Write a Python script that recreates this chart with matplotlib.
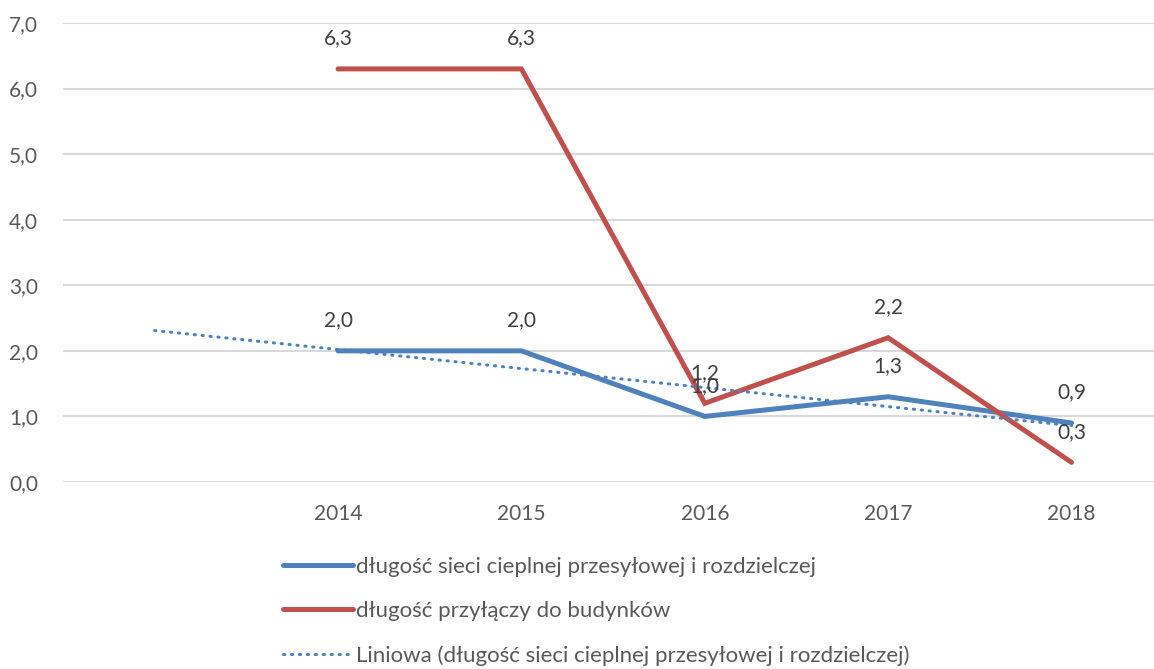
import matplotlib.pyplot as plt
import numpy as np

plt.rcParams['font.family'] = ['Lato', 'DejaVu Sans']

# first slot is an empty category, so the trend line has room to the left
years = ['', '2014', '2015', '2016', '2017', '2018']
siec = [2.0, 2.0, 1.0, 1.3, 0.9]          # 2014-2018
przylacza = [6.3, 6.3, 1.2, 2.2, 0.3]     # 2014-2018
y_ticks = [0, 1, 2, 3, 4, 5, 6, 7]

label_siec = 'długość sieci cieplnej przesyłowej i rozdzielczej'
label_przyl = 'długość przyłączy do budynków'
label_trend = 'Liniowa (długość sieci cieplnej przesyłowej i rozdzielczej)'

blue = '#4F81BD'
red = '#C0504D'
txt = '#595959'

fig = plt.figure(figsize=(11.54, 6.69), dpi=100)
ax = fig.add_axes([63 / 1154, 1 - 482 / 669, 1 - 63 / 1154, (482 - 23) / 669])

x = np.arange(1, len(years))
l1, = ax.plot(x, siec, color=blue, lw=3.6, solid_capstyle='round', solid_joinstyle='miter')
l2, = ax.plot(x, przylacza, color=red, lw=3.6, solid_capstyle='round', solid_joinstyle='miter')

# linear trend over the whole category range
k, b = np.polyfit(x, siec, 1)
xt = np.array([0, len(years) - 1])
l3, = ax.plot(xt, k * xt + b, color=blue, lw=2.2, linestyle=(0, (0.4, 2.2)),
              dash_capstyle='round')

for xi, v in zip(x, siec):
    ax.annotate(f'{v:.1f}'.replace('.', ','), (xi, v), xytext=(0, 22),
                textcoords='offset points', ha='center', va='center',
                fontsize=15, color='#404040')
for xi, v in zip(x, przylacza):
    ax.annotate(f'{v:.1f}'.replace('.', ','), (xi, v), xytext=(0, 22),
                textcoords='offset points', ha='center', va='center',
                fontsize=15, color='#404040')

ax.set_xlim(-0.5, 5.45)
ax.set_ylim(0, 7)
ax.set_xticks(range(len(years)))
ax.set_xticklabels(years)
ax.set_yticks(y_ticks)
ax.set_yticklabels([f'{t:.1f}'.replace('.', ',') for t in y_ticks])
ax.tick_params(length=0, labelsize=15, colors=txt)
ax.tick_params(axis='x', pad=16)
ax.tick_params(axis='y', pad=18)
ax.grid(axis='y', color='#D9D9D9', lw=1.5)
ax.set_axisbelow(True)
for s in ax.spines.values():
    s.set_visible(False)

fig.legend([l1, l2, l3], [label_siec, label_przyl, label_trend],
           loc='upper left', bbox_to_anchor=(283 / 1154, 1 - 557 / 669),
           frameon=False, fontsize=16, labelcolor=txt, handlelength=3.15,
           handletextpad=0.12, labelspacing=1.08, borderaxespad=0, borderpad=0)

fig.savefig('out.png', dpi=100)
